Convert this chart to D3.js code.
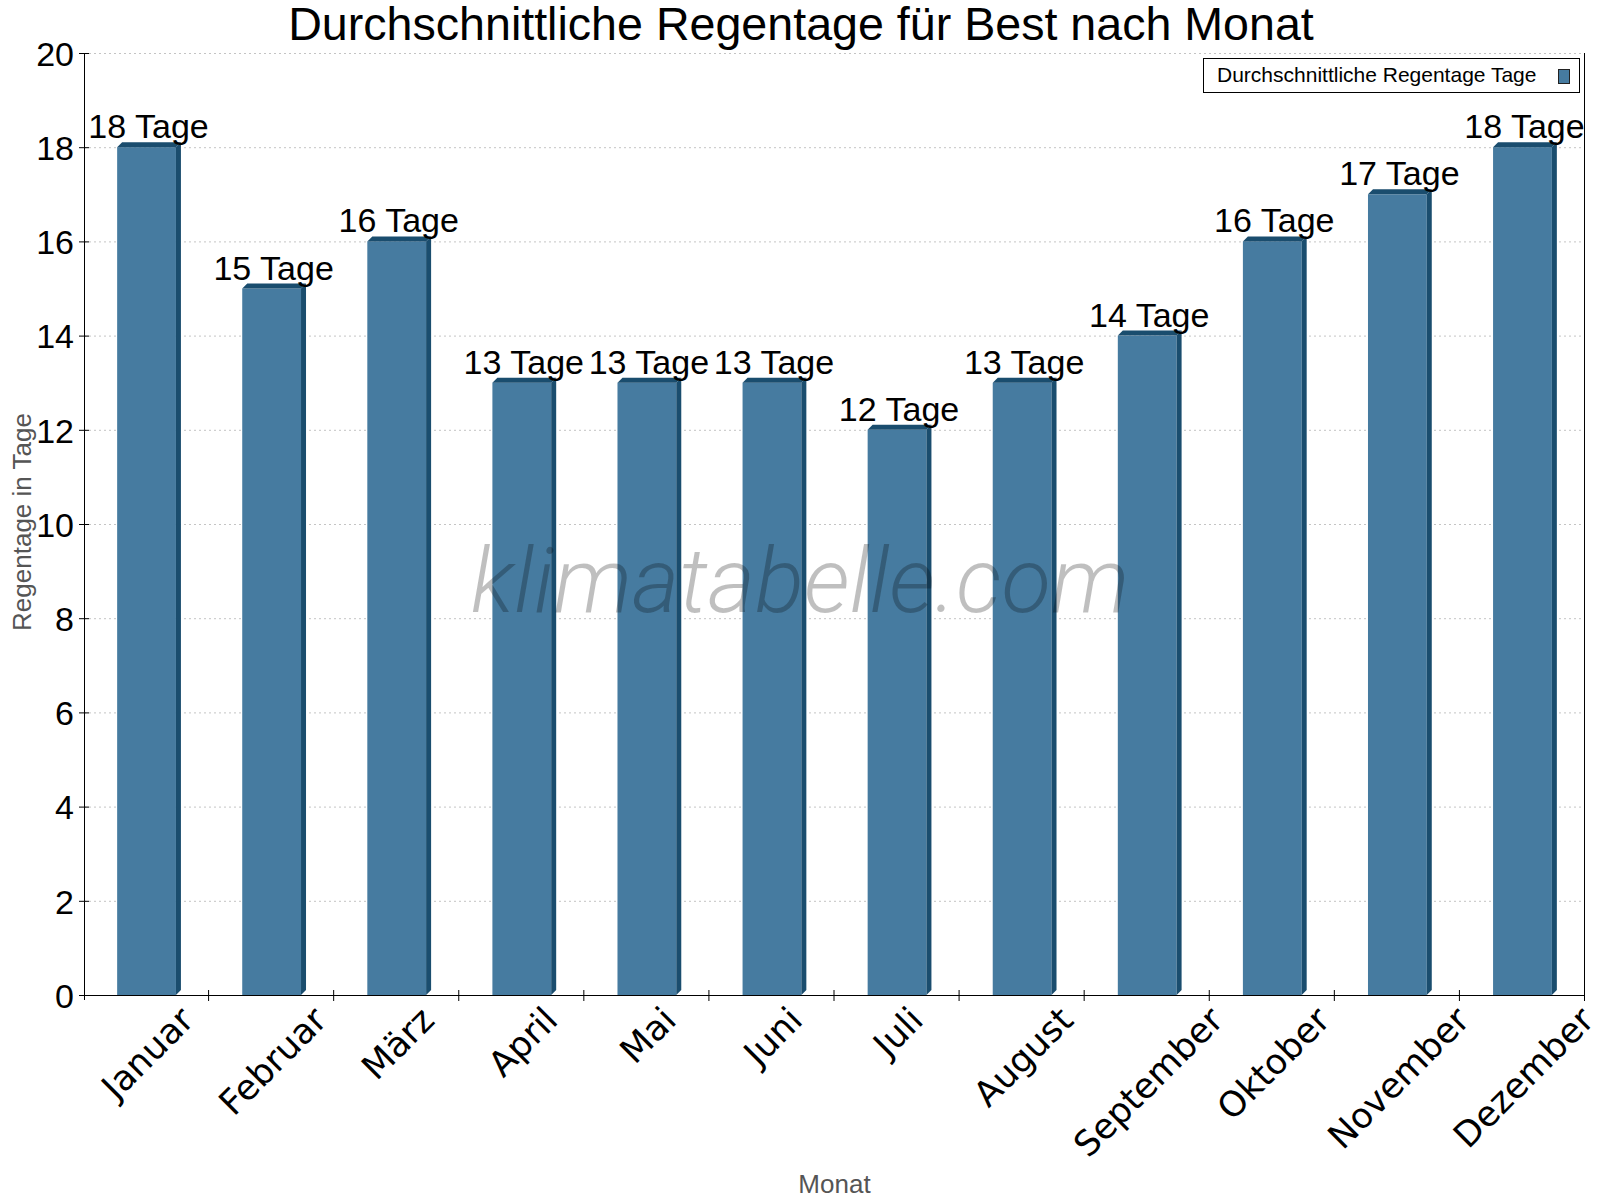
<!DOCTYPE html>
<html>
<head>
<meta charset="utf-8">
<script src="https://cdn.jsdelivr.net/npm/d3@7"></script>
<style>
  body { margin: 0; background: #fff; }
  svg { display: block; font-family: "Liberation Sans", Arial, sans-serif; }
</style>
</head>
<body>
<div id="chart"></div>
<script>
var months = ["Januar", "Februar", "März", "April", "Mai", "Juni", "Juli", "August", "September", "Oktober", "November", "Dezember"];
var rainDays = [18, 15, 16, 13, 13, 13, 12, 13, 14, 16, 17, 18];
var yTicks = [0, 2, 4, 6, 8, 10, 12, 14, 16, 18, 20];

var width = 1600,
    height = 1200,
    margin = {top: 53, right: 15, bottom: 205, left: 84};

var front = "#467ba0",
    dark = "#1a4d6e",
    depth = 5;

var svg = d3.select("#chart")
    .append("svg")
    .attr("width", width)
    .attr("height", height);

var x = d3.scaleBand()
    .domain(months)
    .range([margin.left, width - margin.right])
    .paddingInner(0)
    .paddingOuter(0);

var y = d3.scaleLinear()
    .domain([0, 20])
    .range([height - margin.bottom, margin.top]);

var barW = x.bandwidth() * 0.47;

// gridlines
svg.append("g")
    .selectAll("line")
    .data(yTicks.filter(function (d) { return d > 0; }))
    .enter()
    .append("line")
    .attr("x1", margin.left)
    .attr("x2", width - margin.right)
    .attr("y1", function (d) { return y(d) + 0.5; })
    .attr("y2", function (d) { return y(d) + 0.5; })
    .attr("stroke", "#c4c4c4")
    .attr("stroke-dasharray", "2,3");

// bars
var bars = svg.append("g")
    .selectAll("g")
    .data(months)
    .enter()
    .append("g");

function x0(i) { return x(months[i]) + (x.bandwidth() - barW) / 2; }

bars.append("rect")
    .attr("x", function (d, i) { return x0(i); })
    .attr("y", function (d, i) { return y(rainDays[i]); })
    .attr("width", barW)
    .attr("height", function (d, i) { return y(0) - y(rainDays[i]); })
    .attr("fill", front);

// side face
bars.append("path")
    .attr("d", function (d, i) {
        var r = x0(i) + barW, t = y(rainDays[i]), b = y(0);
        return "M" + r + "," + t + "L" + (r + depth) + "," + (t - depth) +
            "L" + (r + depth) + "," + (b - depth) + "L" + r + "," + b + "Z";
    })
    .attr("fill", dark);

// top face
bars.append("path")
    .attr("d", function (d, i) {
        var l = x0(i), r = l + barW, t = y(rainDays[i]);
        return "M" + l + "," + t + "L" + (l + depth) + "," + (t - depth) +
            "L" + (r + depth) + "," + (t - depth) + "L" + r + "," + t + "Z";
    })
    .attr("fill", dark);

// watermark (drawn over the bars)
svg.append("text")
    .attr("x", 800)
    .attr("y", 612)
    .attr("text-anchor", "middle")
    .style("font-family", "Roboto")
    .style("font-weight", 300)
    .style("font-style", "italic")
    .style("font-size", "91px")
    .attr("fill", "#000")
    .attr("fill-opacity", 0.25)
    .text("klimatabelle.com");

// value labels
bars.append("text")
    .attr("x", function (d, i) { return x0(i) + barW / 2 + 2; })
    .attr("y", function (d, i) { return y(rainDays[i]) - 9; })
    .attr("text-anchor", "middle")
    .style("font-size", "34px")
    .attr("fill", "#000")
    .text(function (d, i) { return rainDays[i] + " Tage"; });

// y axis
var yAxis = svg.append("g")
    .attr("transform", "translate(" + margin.left + ",0)")
    .call(d3.axisLeft(y).tickValues(yTicks).tickSize(5).tickSizeOuter(0));
yAxis.select(".domain").attr("d", "M0.5," + margin.top + "V" + (y(0) + 5));
yAxis.selectAll(".tick line").attr("x2", -5).attr("x1", 5);
yAxis.selectAll(".tick text")
    .attr("x", -10)
    .attr("dy", "0.36em")
    .style("font-size", "34px")
    .style("font-family", "Liberation Sans, Arial, sans-serif")
    .attr("fill", "#000");

// right border
svg.append("line")
    .attr("x1", width - margin.right - 0.5)
    .attr("x2", width - margin.right - 0.5)
    .attr("y1", margin.top)
    .attr("y2", y(0))
    .attr("stroke", "#000");

// x axis
var xg = svg.append("g")
    .attr("transform", "translate(0," + y(0) + ")");
xg.append("line")
    .attr("x1", margin.left)
    .attr("x2", width - margin.right)
    .attr("y1", 0.5)
    .attr("y2", 0.5)
    .attr("stroke", "#000");
xg.selectAll(".tk")
    .data(months)
    .enter()
    .append("line")
    .attr("class", "tk")
    .attr("x1", function (d) { return x(d) + x.bandwidth() - 0.5; })
    .attr("x2", function (d) { return x(d) + x.bandwidth() - 0.5; })
    .attr("y1", -5)
    .attr("y2", 6)
    .attr("stroke", "#000");

// rotated month labels: box centered on the band, top aligned under the axis
var lblSize = 35;
xg.selectAll(".lbl")
    .data(months)
    .enter()
    .append("text")
    .attr("class", "lbl")
    .attr("text-anchor", "middle")
    .attr("dy", "0.35em")
    .style("font-family", "'DejaVu Sans', Verdana, sans-serif")
    .style("font-size", lblSize + "px")
    .attr("fill", "#000")
    .text(function (d) { return d; })
    .attr("transform", function (d) {
        var len = this.getComputedTextLength();
        var half = (len + lblSize * 0.85) * Math.SQRT1_2 / 2;
        return "translate(" + (x(d) + x.bandwidth() / 2 + 1) + "," + (8 + half) + ") rotate(-45)";
    });

// axis titles
svg.append("text")
    .attr("x", (margin.left + width - margin.right) / 2)
    .attr("y", 1193)
    .attr("text-anchor", "middle")
    .style("font-size", "26px")
    .attr("fill", "#555")
    .text("Monat");

svg.append("text")
    .attr("transform", "translate(31," + (y(10) - 2) + ") rotate(-90)")
    .attr("text-anchor", "middle")
    .style("font-size", "26px")
    .attr("fill", "#555")
    .text("Regentage in Tage");

// title
svg.append("text")
    .attr("x", 801)
    .attr("y", 40)
    .attr("text-anchor", "middle")
    .style("font-size", "46.6px")
    .attr("fill", "#000")
    .text("Durchschnittliche Regentage für Best nach Monat");

// legend
var legend = svg.append("g");
legend.append("rect")
    .attr("x", 1203.5)
    .attr("y", 58.5)
    .attr("width", 376)
    .attr("height", 34)
    .attr("fill", "#fff")
    .attr("stroke", "#000");
legend.append("text")
    .attr("x", 1217)
    .attr("y", 82)
    .style("font-size", "21px")
    .attr("fill", "#000")
    .text("Durchschnittliche Regentage Tage");
legend.append("rect")
    .attr("x", 1558.5)
    .attr("y", 69.5)
    .attr("width", 11)
    .attr("height", 14)
    .attr("fill", front)
    .attr("stroke", "#222");
</script>
</body>
</html>
